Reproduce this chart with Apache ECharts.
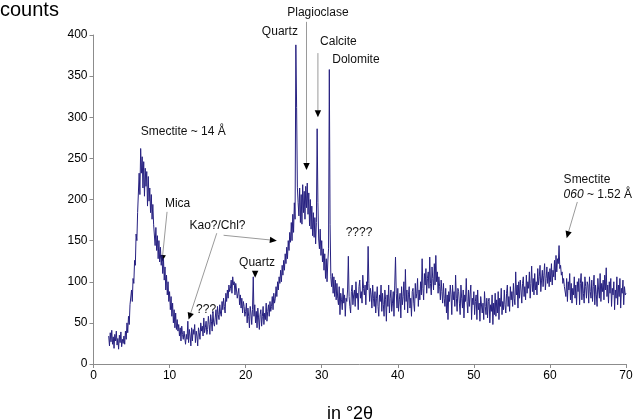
<!DOCTYPE html>
<html>
<head>
<meta charset="utf-8">
<script src="https://cdn.jsdelivr.net/npm/echarts@6/dist/echarts.min.js"></script>
<style>
  html, body { margin: 0; padding: 0; background: #fff; }
  #chart { width: 640px; height: 419px; }
</style>
</head>
<body>
<div id="chart"></div>
<script>
// XRD scan, counts every 0.1 °2θ from 2 to 70
const twoThetaStart = 2.0;
const twoThetaStep = 0.1;
const counts = [
  34, 22, 38, 27, 41, 24, 33, 19, 36, 28,            // 2
  40, 23, 31, 18, 35, 26, 39, 21, 30, 25,            // 3
  34, 24, 40, 30, 50, 38, 58, 48, 72, 72,            // 4
  90, 76, 104, 98, 126, 120, 158, 150, 184, 186,     // 5
  232, 206, 262, 232, 252, 214, 246, 204, 238, 216,  // 6
  234, 192, 228, 198, 214, 184, 206, 176, 194, 170,  // 7
  172, 144, 166, 138, 156, 128, 150, 124, 142, 120,  // 8
  132, 110, 128, 102, 118, 90, 108, 84, 100, 76,     // 9
  88, 66, 82, 58, 74, 50, 66, 44, 62, 42,            // 10
  54, 40, 48, 34, 44, 28, 46, 36, 30, 40,            // 11
  42, 24, 36, 30, 52, 26, 42, 34, 22, 44,            // 12
  28, 42, 36, 48, 26, 40, 34, 22, 44, 38,            // 13
  30, 50, 40, 46, 34, 56, 38, 44, 52, 36,            // 14
  42, 58, 48, 36, 60, 52, 40, 64, 50, 46,            // 15
  56, 66, 48, 70, 60, 54, 72, 62, 58, 76,            // 16
  66, 80, 70, 62, 86, 76, 90, 80, 96, 88,            // 17
  92, 102, 86, 106, 96, 100, 84, 98, 90, 80,         // 18
  86, 92, 72, 84, 68, 80, 62, 76, 70, 58,            // 19
  64, 74, 50, 68, 58, 44, 70, 62, 48, 66,            // 20
  106, 58, 72, 50, 64, 44, 68, 56, 42, 60,           // 21
  66, 46, 58, 70, 48, 62, 54, 74, 52, 64,            // 22
  72, 58, 76, 64, 70, 82, 66, 86, 74, 80,            // 23
  94, 82, 100, 90, 106, 98, 114, 100, 120, 108,      // 24
  126, 114, 134, 122, 142, 128, 150, 138, 160, 148,  // 25
  172, 150, 182, 160, 196, 176, 388, 312, 215, 196,  // 26
  180, 214, 172, 206, 170, 218, 184, 210, 176, 216,  // 27
  190, 220, 182, 208, 168, 200, 164, 192, 156, 184,  // 28
  154, 178, 146, 172, 286, 196, 152, 140, 164, 132,  // 29
  150, 124, 140, 114, 134, 104, 128, 100, 124, 140,  // 30
  358, 170, 106, 94, 110, 86, 106, 82, 102, 78,      // 31
  98, 80, 72, 94, 60, 86, 78, 66, 92, 74,            // 32
  84, 58, 80, 76, 90, 131, 82, 70, 62, 88,           // 33
  96, 72, 84, 90, 70, 100, 80, 86, 66, 94,           // 34
  102, 80, 88, 74, 108, 92, 84, 96, 72, 100,         // 35
  90, 143, 98, 76, 92, 84, 68, 96, 80, 70,           // 36
  88, 62, 80, 94, 70, 58, 84, 76, 96, 64,            // 37
  86, 72, 58, 90, 78, 52, 84, 70, 96, 62,            // 38
  80, 90, 64, 74, 88, 58, 96, 130, 86, 68,           // 39
  92, 64, 78, 86, 56, 94, 72, 82, 100, 66,           // 40
  115, 76, 90, 62, 84, 94, 68, 80, 58, 88,           // 41
  92, 74, 64, 98, 80, 86, 104, 70, 90, 78,           // 42
  100, 84, 128, 92, 78, 110, 96, 116, 86, 104,       // 43
  112, 92, 130, 98, 84, 118, 104, 90, 122, 96,       // 44
  132, 100, 112, 86, 106, 94, 78, 102, 88, 74,       // 45
  98, 80, 70, 92, 62, 84, 54, 88, 76, 96,            // 46
  84, 60, 96, 78, 88, 70, 108, 80, 64, 92,           // 47
  88, 74, 60, 96, 80, 68, 90, 56, 84, 76,            // 48
  104, 76, 62, 90, 70, 84, 96, 54, 80, 72,           // 49
  88, 60, 76, 84, 54, 90, 66, 74, 52, 82,            // 50
  84, 62, 74, 54, 88, 70, 60, 80, 56, 76,            // 51
  80, 50, 72, 64, 84, 48, 74, 60, 86, 58,            // 52
  78, 62, 88, 54, 80, 70, 92, 60, 76, 66,            // 53
  90, 72, 62, 86, 96, 70, 82, 64, 94, 78,            // 54
  88, 70, 98, 80, 72, 112, 84, 96, 68, 100,          // 55
  80, 102, 90, 74, 98, 106, 82, 94, 78, 108,         // 56
  86, 100, 92, 112, 80, 98, 119, 88, 104, 84,        // 57
  110, 90, 100, 84, 116, 96, 106, 120, 88, 102,      // 58
  114, 94, 108, 122, 90, 104, 118, 98, 112, 94,      // 59
  116, 100, 122, 96, 114, 106, 126, 102, 132, 112,   // 60
  128, 122, 144, 116, 120, 108, 112, 98, 104, 94,    // 61
  96, 82, 104, 76, 100, 90, 110, 78, 98, 74,         // 62
  92, 84, 106, 80, 96, 72, 100, 88, 104, 72,         // 63
  98, 110, 78, 100, 86, 74, 106, 94, 80, 100,        // 64
  96, 74, 106, 88, 80, 102, 76, 94, 108, 72,         // 65
  96, 84, 70, 104, 90, 80, 110, 76, 98, 88,          // 66
  102, 78, 108, 90, 117, 82, 96, 74, 100, 86,        // 67
  104, 70, 92, 84, 100, 66, 90, 80, 106, 72,         // 68
  96, 82, 104, 68, 92, 86, 102, 72, 94, 84,          // 69
  86                                                 // 70
];

// annotation texts, anchored in data coordinates [°2θ, counts]
const labels = [
  { text: 'Smectite ~ 14 Å', at: [11.8, 282] },
  { text: 'Mica', at: [11.05, 194.5] },
  { text: 'Kao?/Chl?', at: [16.3, 168] },
  { text: '???', at: [14.8, 66] },
  { text: 'Quartz', at: [21.5, 123] },
  { text: 'Quartz', at: [24.5, 404] },
  { text: 'Plagioclase', at: [29.5, 427] },
  { text: 'Calcite', at: [32.2, 391.5] },
  { text: 'Dolomite', at: [34.5, 370] },
  { text: '????', at: [34.9, 160] },
  { text: 'Smectite', at: [61.8, 224], align: 'left' },
  { text: '{i|060} ~ 1.52 Å', at: [61.8, 205.5], align: 'left' }
];
const arrows = [
  { from: [9.67, 185], to: [9.0, 124] },
  { from: [16.2, 159], to: [12.5, 54] },
  { from: [17.1, 156.5], to: [24.1, 150] },
  { from: [21.25, 113], to: [21.25, 105] },
  { from: [28.0, 416], to: [28.0, 236] },
  { from: [29.5, 378], to: [29.5, 300] },
  { from: [63.6, 197], to: [62.2, 153] }
];

const font = '"Liberation Sans", Arial, sans-serif';
const chart = echarts.init(document.getElementById('chart'));

const points = counts.map((c, i) => [+(twoThetaStart + i * twoThetaStep).toFixed(1), c]);

chart.setOption({
  animation: false,
  grid: { left: 93.5, right: 14, top: 35, bottom: 55 },
  xAxis: {
    type: 'value', min: 0, max: 70, interval: 10,
    splitLine: { show: false },
    axisLine: { lineStyle: { color: '#8c8c8c', width: 1 } },
    axisTick: { length: 4, lineStyle: { color: '#8c8c8c' } },
    axisLabel: { color: '#000', fontSize: 12, fontFamily: font, margin: 6 }
  },
  yAxis: {
    type: 'value', min: 0, max: 400, interval: 50,
    splitLine: { show: false },
    axisLine: { show: true, lineStyle: { color: '#8c8c8c', width: 1 } },
    axisTick: { show: true, length: 4, lineStyle: { color: '#8c8c8c' } },
    axisLabel: { color: '#000', fontSize: 12, fontFamily: font, margin: 6 }
  },
  series: [{
    type: 'line',
    data: points,
    showSymbol: false,
    sampling: false,
    lineStyle: { color: '#262080', width: 1 },
    silent: true
  }]
});

function px(p) {
  return chart.convertToPixel({ gridIndex: 0 }, p);
}

function arrowEls(from, to) {
  const a = px(from), b = px(to);
  const dx = b[0] - a[0], dy = b[1] - a[1];
  const len = Math.hypot(dx, dy) || 1;
  const ux = dx / len, uy = dy / len;
  const L = 7, W = 3.2;
  const bx = b[0] - ux * L, by = b[1] - uy * L;
  const els = [];
  if (len > L) {
    els.push({ type: 'line', silent: true,
      shape: { x1: a[0], y1: a[1], x2: bx, y2: by },
      style: { stroke: '#9a9a9a', lineWidth: 1 } });
  }
  els.push({ type: 'polygon', silent: true,
    shape: { points: [[b[0], b[1]], [bx - uy * W, by + ux * W], [bx + uy * W, by - ux * W]] },
    style: { fill: '#000' } });
  return els;
}

let graphics = [
  { type: 'text', left: 0, top: 0, silent: true,
    style: { text: 'counts', font: '20px ' + font, fill: '#000' } },
  { type: 'text', x: 350, y: 414, silent: true,
    style: { text: 'in °2θ', font: '18px ' + font, fill: '#000', align: 'center', verticalAlign: 'middle' } }
];
labels.forEach(l => {
  const p = px(l.at);
  graphics.push({ type: 'text', x: p[0], y: p[1], silent: true,
    style: { text: l.text, font: '12px ' + font, fill: '#111',
      align: l.align || 'center', verticalAlign: 'middle',
      rich: { i: { fontStyle: 'italic', font: 'italic 12px ' + font, fill: '#111' } } } });
});
arrows.forEach(a => { graphics = graphics.concat(arrowEls(a.from, a.to)); });

chart.setOption({ graphic: graphics });
</script>
</body>
</html>
